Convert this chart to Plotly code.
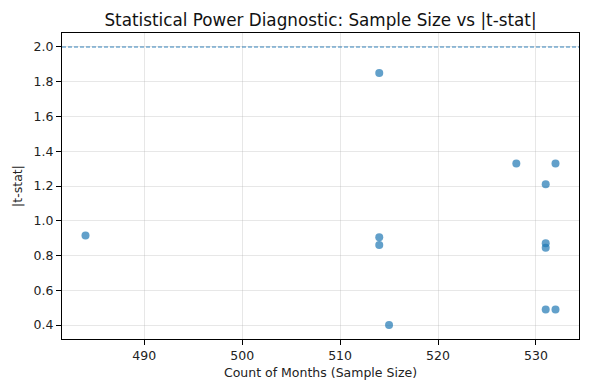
import plotly.graph_objects as go

sample_sizes = [484, 514, 514, 514, 515, 528, 531, 531, 531, 531, 532, 532]
abs_tstat = [0.915, 1.85, 0.905, 0.86, 0.40, 1.33, 1.21, 0.87, 0.845, 0.49, 1.33, 0.49]
threshold = 2.0
x_ticks = [490, 500, 510, 520, 530]
y_ticks = [0.4, 0.6, 0.8, 1.0, 1.2, 1.4, 1.6, 1.8, 2.0]

font = "DejaVu Sans"
fig = go.Figure()
fig.add_trace(go.Scatter(
    x=sample_sizes, y=abs_tstat, mode="markers",
    marker=dict(color="rgba(31,119,180,0.7)", size=8, line=dict(width=0)),
    showlegend=False, hoverinfo="x+y"))
fig.add_hline(y=threshold, line=dict(color="rgba(31,119,180,0.9)", width=1.1, dash="4px,2px"))

axis_common = dict(
    showline=True, linecolor="black", linewidth=1, mirror=True,
    ticks="outside", ticklen=5, tickwidth=1, tickcolor="black",
    showgrid=True, gridcolor="rgba(176,176,176,0.3)", gridwidth=1,
    zeroline=False, tickfont=dict(family=font, size=12.5, color="#222"),
    automargin=False,
)
fig.update_xaxes(range=[481.6, 534.4], tickvals=x_ticks,
                 title=dict(text="Count of Months (Sample Size)", font=dict(family=font, size=12.5, color="#222"), standoff=6),
                 **axis_common)
fig.update_yaxes(range=[0.3198, 2.0803], tickvals=y_ticks, tickformat=".1f",
                 title=dict(text="|t-stat|", font=dict(family=font, size=12.5, color="#222"), standoff=8),
                 **axis_common)
fig.update_layout(
    width=602, height=388,
    margin=dict(l=62, r=23, t=33, b=49, autoexpand=False),
    plot_bgcolor="white", paper_bgcolor="white",
    title=dict(text="Statistical Power Diagnostic: Sample Size vs |t-stat|",
               font=dict(family=font, size=16.8, color="#111"),
               x=0.5, xref="paper", xanchor="center", y=0.948, yanchor="middle"),
)
fig.write_html("out.html", config={"displayModeBar": False},
               post_script="document.body.style.margin='0';document.body.style.overflow='hidden';")
